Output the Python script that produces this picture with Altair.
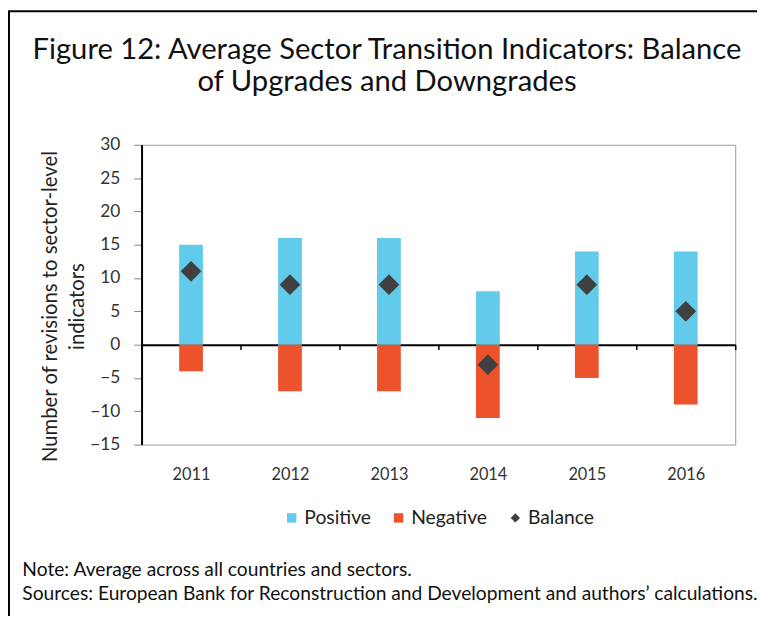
import altair as alt
import pandas as pd

years = ["2011", "2012", "2013", "2014", "2015", "2016"]
positive = [15, 16, 16, 8, 14, 14]
negative = [-4, -7, -7, -11, -5, -9]
balance = [11, 9, 9, -3, 9, 5]

series_names = ["Positive", "Negative", "Balance"]
series_colors = ["#62CAEB", "#EC532D", "#404041"]

title_lines = ["Figure 12: Average Sector Transition Indicators: Balance",
               "of Upgrades and Downgrades"]
ytitle_lines = ["Number of revisions to sector-level", "indicators"]
note_lines = ["Note: Average across all countries and sectors.",
              "Sources: European Bank for Reconstruction and Development and authors\u2019 calculations."]

FONT = "Lato"

bars_df = pd.DataFrame({
    "year": years * 2,
    "series": ["Positive"] * len(years) + ["Negative"] * len(years),
    "value": positive + negative,
})
bal_df = pd.DataFrame({"year": years, "series": ["Balance"] * len(years), "value": balance})

W, H = 600, 303

xscale = alt.Scale(domain=years, paddingInner=0, paddingOuter=0)
yscale = alt.Scale(domain=[-15, 30], nice=False, zero=False)
cscale = alt.Scale(domain=series_names, range=series_colors)
sscale = alt.Scale(domain=series_names, range=["square", "square", "diamond"])

xaxis = alt.Axis(
    orient="bottom", offset=-101, domainColor="#000", domainWidth=2,
    ticks=True, tickBand="extent", tickColor="#000", tickSize=5, tickWidth=1.5,
    labelPadding=118, labelFontSize=16.5, labelColor="#333", labelFont=FONT,
    title=note_lines, titleFont=FONT, titleFontSize=19.4, titleFontWeight="normal",
    titleColor="#111", titleAlign="left", titleBaseline="top", titleX=-121, titleY=218,
    titleLineHeight=25, labelAngle=0,
)
yaxis = alt.Axis(
    values=list(range(-15, 31, 5)), tickCount=10, domainColor="#000", domainWidth=2,
    tickColor="#888", tickSize=8, labelPadding=14, labelFontSize=17.5,
    labelColor="#333", labelFont=FONT, grid=False, labelOverlap=False,
    labelExpr="replace(datum.label, '-', '\u2212')",
    title=ytitle_lines, titleFont=FONT, titleFontSize=20.5, titleFontWeight="normal",
    titleColor="#222", titleX=-86, titleY=163, titleBaseline="alphabetic",
    titleLineHeight=27, titleAngle=270,
)

legend = alt.Legend(
    orient="none", legendX=142, legendY=367, direction="horizontal", title=None,
    labelFont=FONT, labelFontSize=19.5, labelColor="#222", symbolSize=90,
    columnPadding=18, labelOffset=3, symbolStrokeWidth=0,
)

bars = alt.Chart(bars_df).mark_bar(width=24).encode(
    x=alt.X("year:N", scale=xscale, axis=xaxis, sort=years),
    y=alt.Y("value:Q", scale=yscale, axis=yaxis, stack=None),
    color=alt.Color("series:N", scale=cscale, legend=legend),
)

points = alt.Chart(bal_df).mark_point(filled=True, size=440, opacity=1).encode(
    x=alt.X("year:N", scale=xscale, axis=xaxis, sort=years),
    y=alt.Y("value:Q", scale=yscale, axis=yaxis),
    color=alt.Color("series:N", scale=cscale, legend=legend),
    shape=alt.Shape("series:N", scale=sscale, legend=legend),
)

deco_df = pd.DataFrame({"k": [0]})
left_border = alt.Chart(deco_df).mark_rule(color="#000", strokeWidth=2).encode(
    x=alt.value(-134), y=alt.value(-135), y2=alt.value(480)
)
top_border = alt.Chart(deco_df).mark_rule(color="#000", strokeWidth=2).encode(
    x=alt.value(-135), x2=alt.value(630), y=alt.value(-135)
)
title_text = alt.Chart(deco_df).mark_text(
    font=FONT, fontSize=29.5, color="#111", align="center", baseline="alphabetic",
    lineHeight=33,
).encode(x=alt.value(248), y=alt.value(-87), text=alt.value(title_lines))

chart = alt.layer(bars, points, left_border, top_border, title_text).properties(
    width=W, height=H,
    autosize=alt.AutoSizeParams(type="none"),
    padding={"left": 135, "top": 135, "right": 22, "bottom": 170},
).configure_view(stroke="#999", strokeWidth=1)

chart.save("out.html", embed_options={"renderer": "svg", "actions": False})
